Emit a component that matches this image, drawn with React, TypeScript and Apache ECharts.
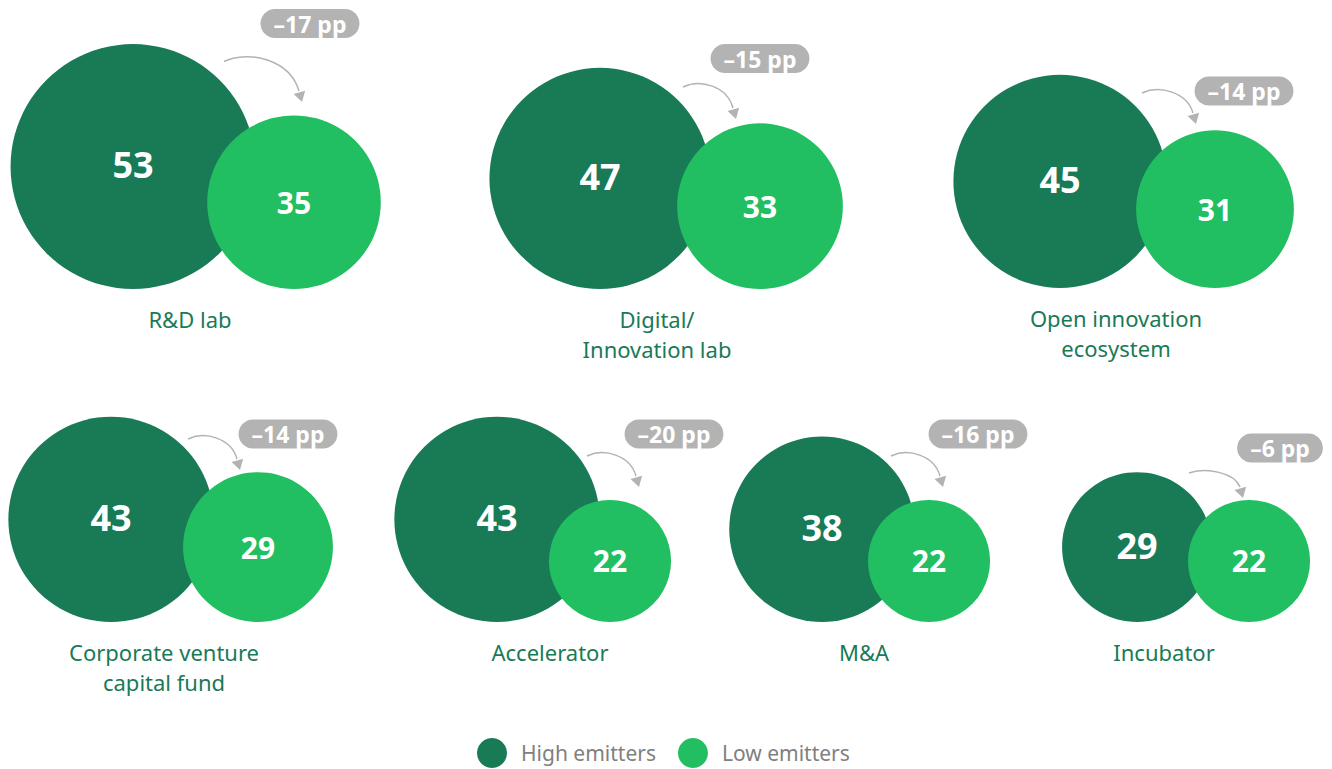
import React, { useEffect, useRef } from 'react';
import * as echarts from 'echarts';

// ---- data ----
const categories = [
  'R&D lab',
  'Digital/\nInnovation lab',
  'Open innovation\necosystem',
  'Corporate venture\ncapital fund',
  'Accelerator',
  'M&A',
  'Incubator',
];
const highEmitters = [53, 47, 45, 43, 43, 38, 29];
const lowEmitters = [35, 33, 31, 29, 22, 22, 22];
const gapPp = [-17, -15, -14, -14, -20, -16, -6];
const legendNames = ['High emitters', 'Low emitters'];

// ---- styles ----
const HIGH = '#197A56';
const LOW = '#21BF61';
const GRAY = '#B3B3B3';
const FONT = '"Noto Sans", sans-serif';

// ---- layout (pixel placement of each group) ----
const groupLayout = [
  { cx: 190, base: 289, dxHigh: -57, dxLow: 104, badge: [310, 23.5], arrowFrom: [224, 61.5], arrowTo: [302, 102] },
  { cx: 657, base: 289, dxHigh: -57, dxLow: 103, badge: [760, 58.5], arrowFrom: [683, 87], arrowTo: [736, 119] },
  { cx: 1116, base: 288, dxHigh: -56, dxLow: 99, badge: [1244, 91], arrowFrom: [1142, 93], arrowTo: [1196, 124] },
  { cx: 164, base: 622, dxHigh: -53, dxLow: 94, badge: [288, 434], arrowFrom: [188, 439], arrowTo: [240, 470] },
  { cx: 550, base: 622, dxHigh: -53, dxLow: 60, badge: [674, 434], arrowFrom: [587, 456], arrowTo: [639, 487] },
  { cx: 864, base: 622, dxHigh: -42, dxLow: 65, badge: [978, 434], arrowFrom: [891, 456], arrowTo: [943, 487] },
  { cx: 1164, base: 622, dxHigh: -27, dxLow: 85, badge: [1280, 448], arrowFrom: [1189, 473], arrowTo: [1243, 498] },
];

// value -> circle radius (px)
const radius = (v: number) => 17.5 + 1.98 * v;

function buildOption() {
  const grid: any[] = [];
  const xAxis: any[] = [];
  const yAxis: any[] = [];
  const series: any[] = [];
  const graphic: any[] = [];

  categories.forEach((cat, i) => {
    const L = groupLayout[i];
    grid.push({ left: L.cx - 150, width: 300, top: L.base - 280, height: 280 });
    xAxis.push({
      type: 'category',
      gridIndex: i,
      data: [cat],
      axisLine: { show: false },
      axisTick: { show: false },
      splitLine: { show: false },
      axisLabel: {
        margin: 15,
        color: HIGH,
        fontSize: 22,
        lineHeight: 30,
        fontFamily: FONT,
        align: 'center',
        verticalAlign: 'top',
      },
    });
    yAxis.push({ type: 'value', gridIndex: i, min: 0, max: 1, show: false });

    [highEmitters, lowEmitters].forEach((arr, k) => {
      const v = arr[i];
      const r = radius(v);
      series.push({
        type: 'scatter',
        name: legendNames[k],
        xAxisIndex: i,
        yAxisIndex: i,
        clip: false,
        silent: true,
        z: 2 + k,
        symbol: 'circle',
        symbolSize: (val: any) => 2 * radius(val[2]),
        data: [{ value: [0, 0, v], symbolOffset: [k === 0 ? L.dxHigh : L.dxLow, -r] }],
        itemStyle: { color: k === 0 ? HIGH : LOW, opacity: 1 },
        label: {
          show: true,
          position: 'inside',
          offset: [0, k === 0 ? -2 : 0],
          formatter: (p: any) => String(p.value[2]),
          color: '#fff',
          fontWeight: 'bold',
          fontSize: k === 0 ? 36 : 30,
          fontFamily: FONT,
        },
        emphasis: { disabled: true },
      });
    });

    // badge
    const g = gapPp[i];
    graphic.push({
      type: 'text',
      x: L.badge[0],
      y: L.badge[1],
      silent: true,
      style: {
        text: (g < 0 ? '\u2013' : '+') + Math.abs(g) + ' pp',
        fill: '#fff',
        fontSize: 23,
        fontWeight: 'bold',
        fontFamily: FONT,
        lineHeight: 23,
        align: 'center',
        verticalAlign: 'middle',
        backgroundColor: GRAY,
        padding: [3, 13],
        borderRadius: 15,
      },
    });

    // arrow
    const S = L.arrowFrom;
    const T = L.arrowTo;
    const E = [T[0] - 3, T[1] - 11];
    const w = E[0] - S[0];
    const h = E[1] - S[1];
    graphic.push({
      type: 'bezierCurve',
      silent: true,
      shape: {
        x1: S[0],
        y1: S[1],
        cpx1: S[0] + 0.35 * w,
        cpy1: S[1] - 0.4 * h,
        cpx2: E[0] - 0.12 * w,
        cpy2: S[1] - 0.05 * h,
        x2: E[0],
        y2: E[1],
      },
      style: { stroke: GRAY, lineWidth: 1.5, fill: null },
    });
    const d = [0.263, 0.965];
    const B = [T[0] - 10 * d[0], T[1] - 10 * d[1]];
    const p = [d[1], -d[0]];
    graphic.push({
      type: 'polygon',
      silent: true,
      shape: {
        points: [
          [T[0], T[1]],
          [B[0] + 6 * p[0], B[1] + 6 * p[1]],
          [B[0] - 6 * p[0], B[1] - 6 * p[1]],
        ],
      },
      style: { fill: GRAY },
    });
  });

  return {
    animation: false,
    textStyle: { fontFamily: FONT },
    grid,
    xAxis,
    yAxis,
    series,
    graphic,
    legend: {
      data: legendNames,
      left: 477,
      top: 738,
      padding: 0,
      icon: 'circle',
      itemWidth: 30,
      itemHeight: 30,
      itemGap: 22,
      selectedMode: false,
      textStyle: { fontSize: 21, color: '#808080', fontFamily: FONT, padding: [0, 0, 0, 9] },
    },
  };
}

export default function App() {
  const ref = useRef<HTMLDivElement>(null);
  useEffect(() => {
    document.body.style.margin = '0';
    if (!ref.current) return;
    const chart = echarts.init(ref.current, null, { renderer: 'svg' });
    chart.setOption(buildOption() as any);
    return () => chart.dispose();
  }, []);
  return <div ref={ref} style={{ width: 1332, height: 769 }} />;
}
